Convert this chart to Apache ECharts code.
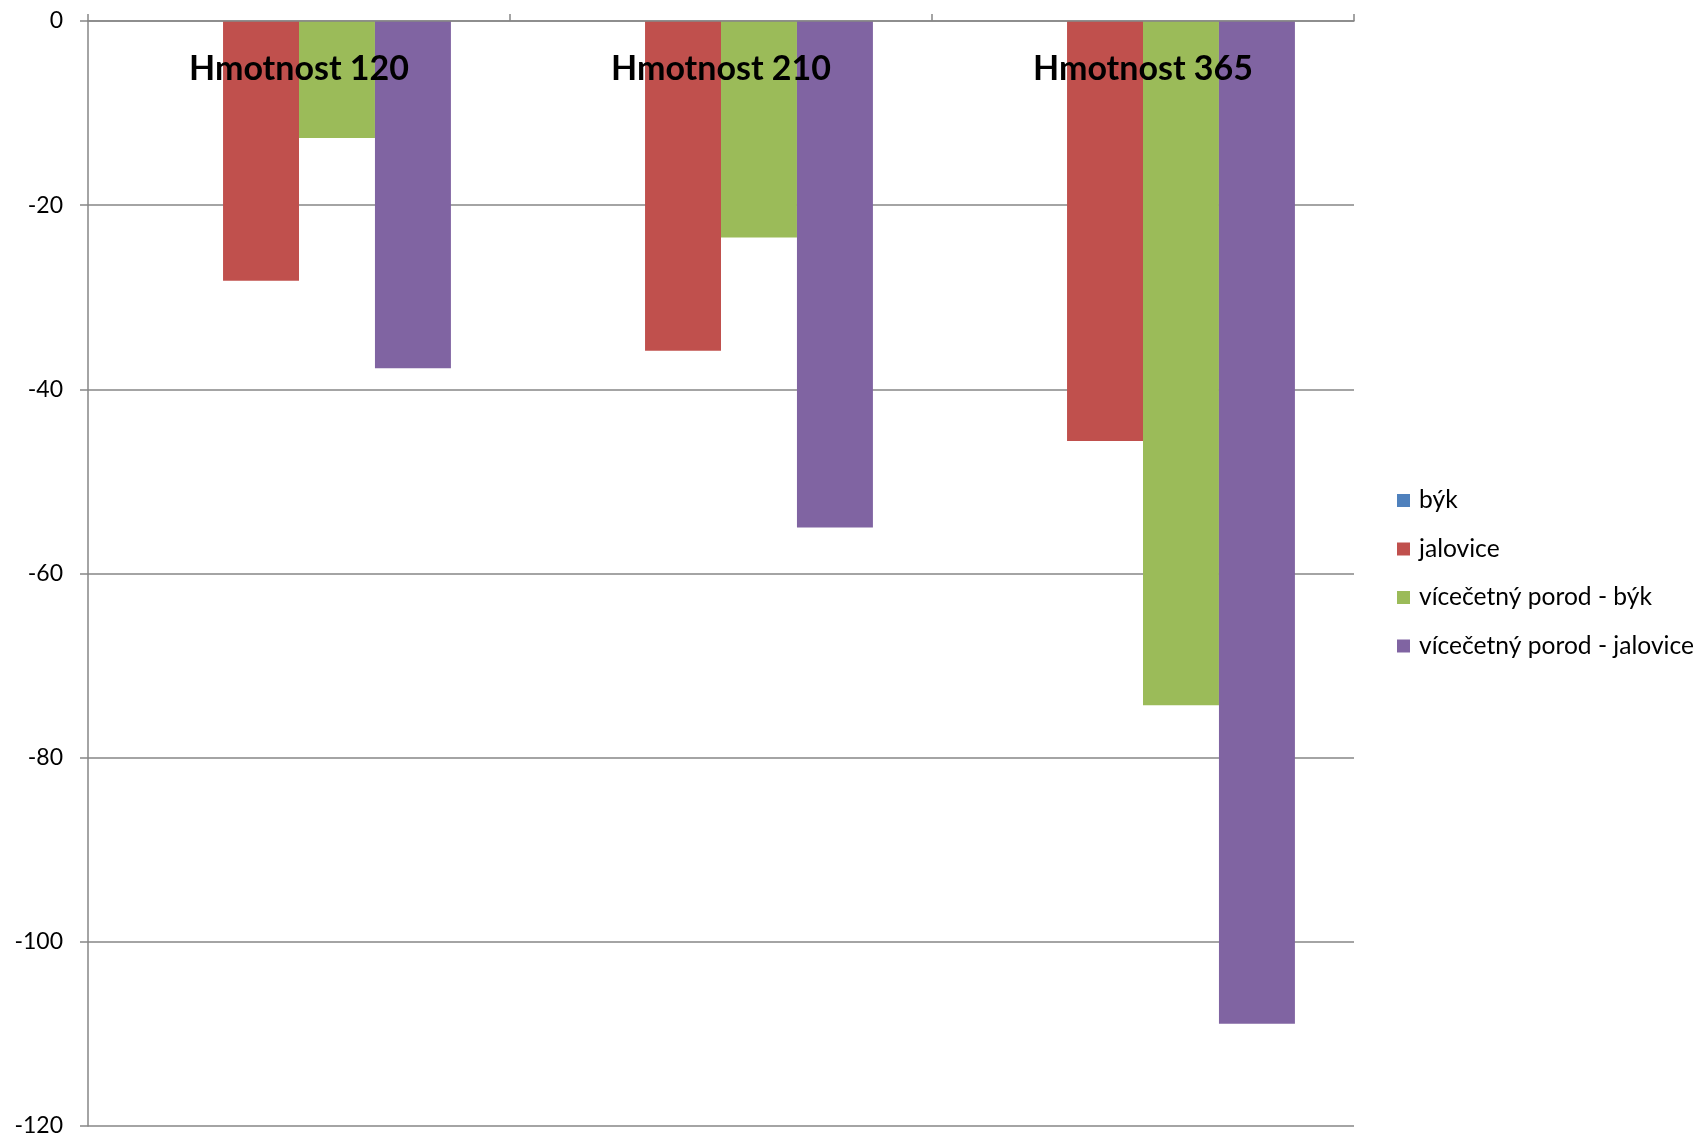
<!DOCTYPE html>
<html>
<head>
<meta charset="utf-8">
<script src="https://cdn.jsdelivr.net/npm/echarts@6/dist/echarts.min.js"></script>
<style>
  html, body { margin: 0; padding: 0; background: #fff; }
  #chart { width: 1702px; height: 1141px; }
</style>
</head>
<body>
<div id="chart"></div>
<script>
// Weight categories and the deviations per group
const categories = ['Hmotnost 120', 'Hmotnost 210', 'Hmotnost 365'];
const seriesNames = ['býk', 'jalovice', 'vícečetný porod - býk', 'vícečetný porod - jalovice'];
const bykValues = [null, null, null];
const jaloviceValues = [-28.2, -35.8, -45.6];
const vicBykValues = [-12.7, -23.5, -74.3];
const vicJaloviceValues = [-37.7, -55.0, -108.9];
const yTicks = { min: -120, max: 0, step: 20 };

const colors = ['#4F81BD', '#C0504D', '#9BBB59', '#8064A2'];
const seriesData = [bykValues, jaloviceValues, vicBykValues, vicJaloviceValues];
const fontFamily = 'Lato, "Open Sans", sans-serif';

const chart = echarts.init(document.getElementById('chart'));
chart.setOption({
  animation: false,
  color: colors,
  grid: { left: 88, right: 348, top: 21, bottom: 15, containLabel: false },
  legend: {
    orient: 'vertical',
    left: 1392,
    top: 483,
    itemWidth: 13,
    itemHeight: 13,
    itemGap: 23.5,
    icon: 'rect',
    textStyle: { fontFamily, fontSize: 24.6, color: '#000', padding: [0, 0, 0, 4] },
    data: seriesNames
  },
  xAxis: {
    type: 'category',
    data: categories,
    position: 'top',
    z: 10,
    axisLine: { onZero: true, lineStyle: { color: '#868686', width: 1.5 } },
    axisTick: { show: true, inside: false, length: 7, lineStyle: { color: '#868686', width: 1.5 } },
    axisLabel: {
      inside: true,
      margin: 31,
      fontFamily,
      fontSize: 34,
      fontWeight: 'bold',
      color: '#000'
    },
    splitLine: { show: false }
  },
  yAxis: {
    type: 'value',
    min: yTicks.min,
    max: yTicks.max,
    interval: yTicks.step,
    axisLine: { show: true, lineStyle: { color: '#868686', width: 1.5 } },
    axisTick: { show: true, length: 8, lineStyle: { color: '#868686', width: 1.5 } },
    axisLabel: { margin: 25, fontFamily, fontSize: 23, color: '#000' },
    splitLine: { show: true, lineStyle: { color: '#868686', width: 1.5 } }
  },
  series: seriesNames.map((name, i) => ({
    name,
    type: 'bar',
    data: seriesData[i],
    barGap: '0%',
    barCategoryGap: '28%',
    itemStyle: { color: colors[i] }
  }))
});
</script>
</body>
</html>
